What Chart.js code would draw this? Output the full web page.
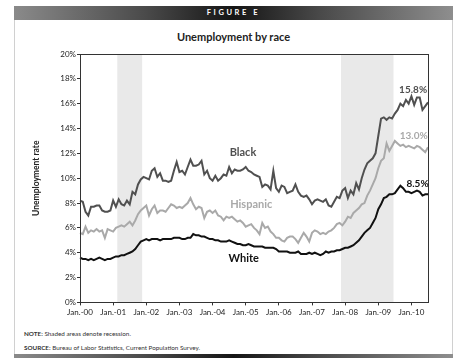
<!DOCTYPE html>
<html>
<head>
<meta charset="utf-8">
<script src="https://cdn.jsdelivr.net/npm/chart.js@4"></script>
<style>
  body { margin:0; background:#fff; font-family:Lato, "Open Sans", sans-serif; }
  #page { position:relative; width:460px; height:363px; overflow:hidden; }
  .bar { position:absolute; left:14px; width:439px;
         background:linear-gradient(to right,#8a8a8a 0%,#4a4a4a 30%,#151515 50%,#4a4a4a 70%,#8e8e8e 100%); }
  #head { top:6px; height:14px; color:#fff; font-weight:bold; font-size:7.5px;
          letter-spacing:2.6px; text-align:center; line-height:14px; }
  #foot { top:354px; height:4px; }
  .side { position:absolute; top:20px; height:334px; width:1px; background:#d0d0d0; }
  #title { position:absolute; left:14px; width:439px; top:30px; text-align:center;
           font-weight:bold; font-size:11px; color:#222; }
  .note { position:absolute; left:24px; font-size:6.3px; color:#333; }
  #wrap { position:absolute; left:0; top:0; width:460px; height:363px; }
</style>
</head>
<body>
<div id="page">
  <div class="bar" id="head">FIGURE E</div>
  <div class="side" style="left:14px"></div>
  <div class="side" style="left:452px"></div>
  <div id="title">Unemployment by race</div>
  <div class="note" style="top:330px"><b>NOTE:</b> Shaded areas denote recession.</div>
  <div class="note" style="top:344px"><b>SOURCE:</b> Bureau of Labor Statistics, Current Population Survey.</div>
  <div class="bar" id="foot"></div>
  <div id="wrap"><canvas id="chart" width="460" height="363"></canvas></div>
</div>
<script>
// monthly, Jan 2000 - Jul 2010
const firstYear = 2000;
const monthCount = 127;

const black = [
  8.2, 8.1, 7.3, 7.0, 7.7, 7.7, 7.8, 7.8, 7.4, 7.3, 7.3, 7.4,
  8.2, 7.7, 8.3, 7.9, 7.8, 8.2, 7.9, 8.9, 8.7, 9.5, 9.9, 10.1,
  10.0, 9.9, 10.6, 10.8, 10.1, 10.4, 9.8, 9.8, 9.7, 9.8, 10.6, 11.3,
  10.5, 10.6, 10.3, 10.9, 11.5, 11.0, 11.0, 11.1, 11.4, 10.3, 10.6, 10.0,
  9.8, 10.2, 9.8, 10.0, 10.3, 10.2, 10.9, 10.4, 10.7, 10.6, 10.6, 10.7,
  10.9, 10.6, 10.5, 10.3, 10.2, 10.1, 9.3, 9.5, 9.4, 9.1, 10.6, 9.2,
  8.9, 9.4, 9.3, 8.8, 8.9, 9.0, 9.5, 8.9, 8.6, 8.5, 8.6, 8.3,
  7.9, 8.2, 8.3, 8.2, 8.1, 8.3, 7.8, 7.7, 8.1, 8.5, 8.4, 9.0,
  9.2, 8.4, 9.0, 8.7, 9.6, 9.1, 10.0, 10.7, 11.2, 11.4, 11.6, 12.0,
  13.4, 14.8, 14.9, 14.7, 14.9, 14.8, 15.2, 15.5, 16.0, 15.8, 16.3, 16.0,
  16.6, 15.9, 16.5, 16.5, 15.5, 15.8, 16.1
];

const hispanic = [
  5.6, 5.5, 6.1, 5.6, 5.8, 5.7, 5.9, 5.7, 5.8, 5.2, 5.9, 5.8,
  5.7, 6.0, 6.1, 6.2, 6.1, 6.3, 6.5, 6.2, 6.6, 7.1, 7.4, 7.6,
  7.8, 7.0, 7.5, 7.8, 7.2, 7.4, 7.4, 7.3, 7.6, 7.9, 7.8, 7.6,
  7.7, 7.6, 7.8, 8.0, 8.4, 7.9, 7.5, 7.7, 7.6, 6.8, 7.3, 7.4,
  7.2, 7.4, 7.0, 6.9, 6.6, 6.9, 6.8, 6.9, 6.7, 6.5, 6.6, 6.4,
  6.1, 6.2, 6.3, 6.0, 5.8, 5.5, 6.4, 6.0, 6.1, 5.7, 5.5, 5.2,
  5.2, 5.0, 4.9, 5.2, 5.3, 5.3, 5.1, 4.8, 5.2, 5.6, 5.3, 4.9,
  5.6, 5.8, 5.7, 5.5, 5.6, 5.5, 5.7, 5.8, 6.0, 6.3, 6.4, 6.2,
  6.5, 6.9, 6.8, 7.2, 7.4, 7.6, 7.9, 8.0, 8.6, 9.0, 9.5, 10.0,
  10.8, 11.4, 11.6, 12.8, 12.2, 12.6, 13.0, 12.8, 12.6, 12.7, 12.5, 12.6,
  12.5, 12.4, 12.6, 12.5, 12.3, 12.1, 12.5
];

const white = [
  3.6, 3.5, 3.5, 3.4, 3.5, 3.4, 3.5, 3.6, 3.5, 3.4, 3.5, 3.5,
  3.6, 3.7, 3.7, 3.8, 3.8, 3.9, 4.0, 4.1, 4.3, 4.6, 4.9, 5.0,
  5.1, 5.0, 5.1, 5.1, 5.1, 5.0, 5.1, 5.1, 5.1, 5.1, 5.2, 5.2,
  5.2, 5.1, 5.1, 5.2, 5.2, 5.5, 5.4, 5.4, 5.3, 5.3, 5.2, 5.1,
  5.1, 5.0, 5.0, 4.9, 4.9, 4.9, 5.0, 4.9, 4.8, 4.7, 4.7, 4.6,
  4.6, 4.7, 4.6, 4.5, 4.5, 4.5, 4.5, 4.4, 4.4, 4.4, 4.4, 4.3,
  4.1, 4.1, 4.1, 4.1, 4.0, 4.0, 4.0, 4.1, 3.9, 3.9, 3.9, 4.0,
  3.9, 4.0, 3.9, 3.8, 3.9, 4.1, 4.0, 4.1, 4.1, 4.2, 4.2, 4.3,
  4.4, 4.4, 4.5, 4.6, 4.8, 5.0, 5.3, 5.6, 5.8, 6.0, 6.4, 6.8,
  7.5, 7.9, 8.4, 8.5, 8.7, 8.7, 8.8, 9.1, 9.4, 9.2, 8.9, 8.9,
  8.8, 8.9, 9.0, 8.9, 8.6, 8.7, 8.7
];

const recessions = [["2001-03", "2001-11"], ["2007-12", "2009-06"]];
const endLabels = ["15.8%", "13.0%", "8.5%"];
const seriesNames = ["Black", "Hispanic", "White"];
const yTicks = [0, 20, 2];

const labels = [];
for (let i = 0; i < monthCount; i++) {
  const y = firstYear + Math.floor(i / 12);
  const m = (i % 12) + 1;
  labels.push(y + "-" + String(m).padStart(2, "0"));
}

const colBlack = "#505050", colHisp = "#a9a9a9", colWhite = "#111111";

const extras = {
  id: "extras",
  beforeDatasetsDraw(chart) {
    const { ctx, chartArea: a, scales: { x } } = chart;
    ctx.save();
    ctx.fillStyle = "#e9e9e9";
    recessions.forEach(r => {
      const x0 = x.getPixelForValue(labels.indexOf(r[0]) - 0.5);
      const x1 = x.getPixelForValue(labels.indexOf(r[1]) + 0.5);
      ctx.fillRect(x0, a.top, x1 - x0, a.bottom - a.top);
    });
    ctx.restore();
  },
  afterDraw(chart) {
    const { ctx, chartArea: a, scales: { x, y } } = chart;
    ctx.save();
    ctx.strokeStyle = "#333";
    ctx.lineWidth = 1;
    ctx.strokeRect(Math.round(a.left) + 0.5, Math.round(a.top) + 0.5,
                   Math.round(a.right - a.left), Math.round(a.bottom - a.top));

    ctx.textAlign = "center";
    ctx.textBaseline = "middle";
    ctx.font = "bold 11px Lato";
    // series names, placed in data units
    const names = [[seriesNames[0], 59, 12.1, colBlack],
                   [seriesNames[1], 62, 7.9, colHisp],
                   [seriesNames[2], 59.3, 3.5, colWhite]];
    names.forEach(n => { ctx.fillStyle = n[3]; ctx.fillText(n[0], x.getPixelForValue(n[1]), y.getPixelForValue(n[2])); });

    ctx.font = "bold 10px Lato";
    const ends = [[endLabels[0], 120.6, 17.1, colBlack],
                  [endLabels[1], 120.8, 13.4, colHisp],
                  [endLabels[2], 122.2, 9.55, colWhite]];
    ends.forEach(n => { ctx.fillStyle = n[3]; ctx.fillText(n[0], x.getPixelForValue(n[1]), y.getPixelForValue(n[2])); });
    ctx.restore();
  }
};

new Chart(document.getElementById("chart"), {
  type: "line",
  data: {
    labels: labels,
    datasets: [
      { label: "Black", data: black, borderColor: colBlack, borderWidth: 2, pointRadius: 0, tension: 0 },
      { label: "Hispanic", data: hispanic, borderColor: colHisp, borderWidth: 2, pointRadius: 0, tension: 0 },
      { label: "White", data: white, borderColor: colWhite, borderWidth: 2, pointRadius: 0, tension: 0 }
    ]
  },
  options: {
    responsive: false,
    animation: false,
    layout: { padding: { left: 31, right: 32, top: 54, bottom: 44 } },
    plugins: { legend: { display: false }, tooltip: { enabled: false } },
    scales: {
      x: {
        offset: false,
        border: { color: "#333" },
        grid: {
          drawOnChartArea: false, tickLength: 3,
          color: c => (c.index % 12 === 0 ? "#333" : "rgba(0,0,0,0)")
        },
        ticks: {
          autoSkip: false, maxRotation: 0, padding: 2,
          color: "#222", font: { family: "Lato", size: 8 },
          callback: function (v, i) {
            const lab = labels[i];
            return lab.endsWith("-01") ? "Jan.-" + lab.slice(2, 4) : "";
          }
        }
      },
      y: {
        min: yTicks[0], max: yTicks[1],
        border: { color: "#333" },
        grid: { drawOnChartArea: false, tickLength: 3, color: "#333" },
        ticks: {
          stepSize: yTicks[2], padding: 1, color: "#222",
          font: { family: "Lato", size: 8 },
          callback: v => v + "%"
        },
        title: {
          display: true, text: "Unemployment rate", color: "#222",
          font: { family: "Lato", size: 8.5, weight: "bold" }, padding: { top: 0, bottom: 0 }
        },
        afterFit: s => { s.width = 49; }
      }
    }
  },
  plugins: [extras]
});
</script>
</body>
</html>
